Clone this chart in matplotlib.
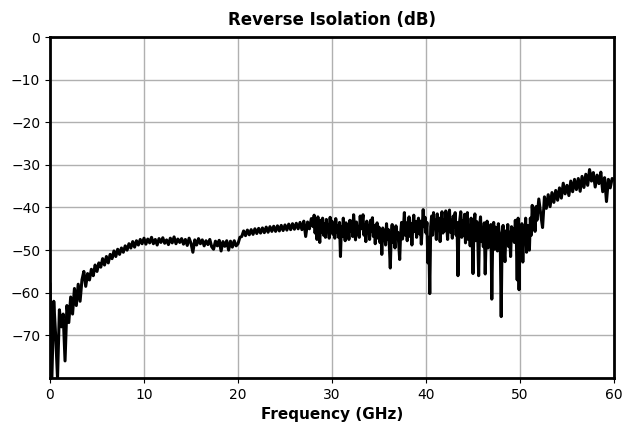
import numpy as np
import matplotlib
matplotlib.use("Agg")
import matplotlib.pyplot as plt

# Reverse isolation (dB), in four frequency segments
seg_a_start, seg_a_step = 0.0, 0.2
iso_a = [-58, -80, -62, -70, -80, -64, -68, -65, -76, -63,
         -67, -61, -65, -59, -63, -58, -62, -57, -55, -58.5,
         -55.5, -57, -54.5, -56, -53.5, -55, -53, -54, -52, -53.5,
         -51.5, -53, -51, -52, -50.2, -51.5, -49.8, -51, -49.5, -50.5,
         -49, -50, -48.5, -49.5, -48, -49.3, -47.8, -48.8, -47.5, -48.5]

seg_b_start, seg_b_step = 10.0, 0.2
iso_b = [-47.2, -48.6, -47.4, -48.3, -47, -48.5, -47.5, -48.8, -47.3, -48.2,
         -47.1, -48.4, -47.6, -48.7, -47.2, -48.3, -46.9, -48.5, -47.4, -48.2,
         -47.3, -48.6, -47.5, -48.9, -47.2, -48.4, -50.5, -47.6, -48.8, -47.3,
         -48.5, -47.6, -49, -47.8, -48.7, -47.5, -49.2, -49.8, -47.9, -49,
         -47.7, -50.2, -48, -49.1, -47.8, -50, -47.9, -49.3, -47.8, -49,
         -48.5, -47, -46.8, -45.5, -46.6, -45.3, -46.4, -45.2, -46.3, -45,
         -46.1, -44.9, -46, -44.8, -45.9, -44.6, -45.8, -44.5, -45.6, -44.4,
         -45.6, -44.3, -45.5, -44.2, -45.4, -44.1, -45.3, -43.9, -45.2, -43.8,
         -45.1, -43.7, -45, -43.5, -45.2, -43.2, -46.8, -43.4, -45, -42.6]

seg_c_start, seg_c_step = 28.0, 0.1
iso_c = [-44.5, -41.8, -46, -43, -47.5, -42.2, -45.5, -48.2, -43, -45.8,
         -42.5, -46.5, -43.8, -47, -42.8, -45.2, -44, -47.2, -42.3, -45.5,
         -43.2, -46.3, -44, -47.2, -42.6, -45.8, -44.3, -47, -43.5, -51.5,
         -44.5, -46.8, -42.5, -45.2, -47.8, -43.6, -46, -44.2, -47.5, -43,
         -45.5, -43.2, -46.8, -41.7, -44.8, -47.6, -43.4, -46.2, -44.5, -47,
         -42, -45, -43.5, -41.7, -46.5, -44, -48, -43.2, -45.8, -44.4,
         -47.5, -43, -45.6, -42.4, -46.8, -44.2, -48.5, -45, -43.6, -47.2,
         -44.6, -48.2, -45.4, -51, -44.8, -47.6, -45.5, -48.8, -43.8, -47.5,
         -45.2, -49, -54.2, -46.5, -44, -48.2, -45.7, -49.5, -44.3, -47,
         -45.8, -48.5, -52.2, -46.2, -43.5, -47.4, -44.8, -41.2, -46.5, -43.6,
         -47.8, -44.5, -42.2, -46.8, -43.8, -48.8, -44.2, -41.8, -45.6, -43.3,
         -47, -44, -42.5, -46.2, -43.2, -48.6, -44.7, -40.5, -44.5, -42.3,
         -46, -43.5, -53, -47, -60.2, -44.5, -42, -46.5, -41.2, -44.8,
         -43, -47.5, -41.5, -45.2, -42.5, -48, -43.6, -41, -46, -43,
         -45.5, -40.8, -44.2, -47.5, -42.2, -40.6, -45.8, -43, -47.2, -42,
         -44.6, -41.2, -46.5, -43.5, -56, -45.4, -42.8, -41, -47, -43.2,
         -46.5, -41.6, -48.3, -43.8, -41.2, -47.5, -44.2, -49, -42.5, -45.8,
         -55.5, -44, -41.5, -47.8, -43.3, -46, -56, -44.6, -42.2, -48,
         -45, -49.2, -43.6, -55.6, -46.5, -43.2, -49.5, -45, -47.8, -44,
         -61.5, -46.5, -43.5, -49.8, -44.6, -47.2, -50.2, -43.8, -46.5, -48.5,
         -65.6, -46, -44.2, -50, -52.7, -45.5, -47.8, -44, -49.2, -45.8,
         -51.5, -44.5, -47.5, -45, -48.2, -43, -46.2, -57, -42.5, -59.3,
         -46.5, -49.5, -43.8, -52.8, -45.5, -48, -42.5, -50.5, -44.2, -47,
         -50, -42.5, -46.5, -39.5, -44.2, -41.2, -45.6, -39.8, -43, -40.5]

seg_d_start, seg_d_step = 52.0, 0.2
iso_d = [-38, -41.5, -44.7, -37.5, -40.2, -37, -39.8, -36.5, -38.8, -36,
         -38.3, -35.4, -37.8, -34.3, -36.8, -34.8, -37.2, -33.8, -36.3, -33.4,
         -35.8, -33.2, -36.2, -32.7, -35.3, -32.2, -34.8, -31.1, -33.8, -31.8,
         -35.2, -32.4, -34.4, -31.7, -36.3, -33, -38.6, -33.4, -35.4, -33.2, -33.5]

segments = [(seg_a_start, seg_a_step, iso_a), (seg_b_start, seg_b_step, iso_b),
            (seg_c_start, seg_c_step, iso_c), (seg_d_start, seg_d_step, iso_d)]
freq = np.concatenate([s + np.arange(len(v)) * st for s, st, v in segments])
isolation = np.concatenate([np.array(v, dtype=float) for _, _, v in segments])

x_ticks = [0, 10, 20, 30, 40, 50, 60]
y_ticks = [0, -10, -20, -30, -40, -50, -60, -70]

fig = plt.figure(figsize=(6.25, 4.22), dpi=100)
ax = fig.add_axes([0.08, 0.1043, 0.9024, 0.808])
ax.plot(freq, isolation, color="black", linewidth=2.2)
ax.set_xlim(0, 60)
ax.set_ylim(-80, 0)
ax.set_xticks(x_ticks)
ax.set_yticks(y_ticks)
ax.grid(True, color="#b0b0b0", linewidth=1)
ax.set_axisbelow(True)
for s in ax.spines.values():
    s.set_linewidth(2)
ax.tick_params(labelsize=10)
ax.set_title("Reverse Isolation (dB)", fontsize=12, fontweight="bold", pad=9)
ax.set_xlabel("Frequency (GHz)", fontsize=11, fontweight="bold")
fig.savefig("out.png", dpi=100)
